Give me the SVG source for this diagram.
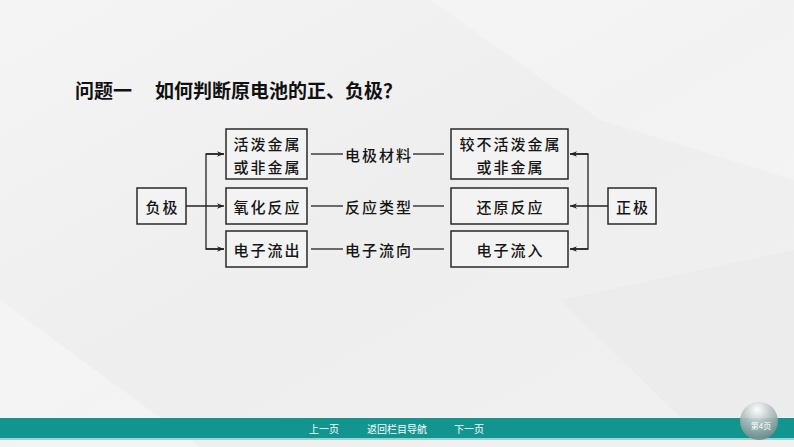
<svg xmlns="http://www.w3.org/2000/svg" width="794" height="447" viewBox="0 0 794 447">
<defs>
<linearGradient id="bg" x1="0" y1="0" x2="1" y2="1">
<stop offset="0" stop-color="#f4f4f4"/>
<stop offset="0.5" stop-color="#eeeeee"/>
<stop offset="1" stop-color="#f1f1f1"/>
</linearGradient>
<radialGradient id="bub" cx="0.45" cy="0.2" r="0.8">
<stop offset="0" stop-color="#ffffff" stop-opacity="0.95"/>
<stop offset="0.45" stop-color="#b9c4c4" stop-opacity="0.9"/>
<stop offset="1" stop-color="#6f8a89" stop-opacity="0.9"/>
</radialGradient>
<marker id="arr" viewBox="0 0 10 10" refX="10" refY="5" markerWidth="7" markerHeight="7" markerUnits="userSpaceOnUse" orient="auto">
<path d="M0,1 L10,5 L0,9 L3,5 Z" fill="#222"/>
</marker>
</defs>
<style>
.box{fill:#f3f3f3;stroke:#2a2a2a;stroke-width:1.5}
.t{font-family:"Noto Sans CJK SC","Noto Sans CJK JP",sans-serif;font-size:15px;font-weight:500;fill:#151515;letter-spacing:2px;text-anchor:middle;dominant-baseline:central}
.ln{stroke:#222;stroke-width:1.3;fill:none}
.title{font-family:"Noto Sans CJK SC",sans-serif;font-size:19px;font-weight:bold;fill:#111}
.ft{font-family:"Noto Sans CJK SC",sans-serif;font-size:10px;fill:#ffffff;text-anchor:middle;dominant-baseline:central}
</style>
<rect x="0" y="0" width="794" height="447" fill="url(#bg)"/>
<polygon points="430,0 794,0 794,180 600,120" fill="#ffffff" opacity="0.25"/>
<polygon points="0,300 200,447 0,447" fill="#ffffff" opacity="0.3"/>
<polygon points="560,300 794,250 794,417 680,417" fill="#e6e6e6" opacity="0.4"/>

<g id="title">
<text class="title" x="75" y="98">问题一</text>
<text class="title" x="155" y="98">如何判断原电池的正、负极？</text>
</g>

<g id="connectors">
<line class="ln" x1="186" y1="206" x2="224" y2="206" marker-end="url(#arr)"/>
<polyline class="ln" points="224,154 206,154 206,249 224,249"/>
<line class="ln" x1="206" y1="154" x2="224" y2="154" marker-end="url(#arr)"/>
<line class="ln" x1="206" y1="249" x2="224" y2="249" marker-end="url(#arr)"/>
<line class="ln" x1="608" y1="206" x2="570" y2="206" marker-end="url(#arr)"/>
<polyline class="ln" points="570,154 588,154 588,249 570,249"/>
<line class="ln" x1="588" y1="154" x2="570" y2="154" marker-end="url(#arr)"/>
<line class="ln" x1="588" y1="249" x2="570" y2="249" marker-end="url(#arr)"/>
<line class="ln" x1="311" y1="154" x2="343" y2="154"/>
<line class="ln" x1="413" y1="154" x2="444" y2="154"/>
<line class="ln" x1="311" y1="206" x2="343" y2="206"/>
<line class="ln" x1="413" y1="206" x2="444" y2="206"/>
<line class="ln" x1="311" y1="249" x2="343" y2="249"/>
<line class="ln" x1="413" y1="249" x2="444" y2="249"/>
<text class="t" x="379" y="154">电极材料</text>
<text class="t" x="379" y="206">反应类型</text>
<text class="t" x="379" y="249">电子流向</text>
</g>

<g id="node-fuji">
<rect class="box" x="137" y="188" width="49" height="36"/>
<text class="t" x="162.5" y="206">负极</text>
</g>
<g id="node-huopo">
<rect class="box" x="226" y="129" width="81" height="50"/>
<text class="t" x="267.5" y="143">活泼金属</text>
<text class="t" x="267.5" y="166">或非金属</text>
</g>
<g id="node-yanghua">
<rect class="box" x="226" y="188" width="81" height="36"/>
<text class="t" x="267.5" y="206">氧化反应</text>
</g>
<g id="node-liuchu">
<rect class="box" x="226" y="231" width="81" height="36"/>
<text class="t" x="267.5" y="249">电子流出</text>
</g>
<g id="node-buhuopo">
<rect class="box" x="451" y="129" width="117" height="50"/>
<text class="t" x="510.5" y="143">较不活泼金属</text>
<text class="t" x="510.5" y="166">或非金属</text>
</g>
<g id="node-huanyuan">
<rect class="box" x="451" y="188" width="117" height="36"/>
<text class="t" x="510.5" y="206">还原反应</text>
</g>
<g id="node-liuru">
<rect class="box" x="451" y="231" width="117" height="36"/>
<text class="t" x="510.5" y="249">电子流入</text>
</g>
<g id="node-zhengji">
<rect class="box" x="608" y="188" width="48" height="36"/>
<text class="t" x="633" y="206">正极</text>
</g>

<g id="footer">
<rect x="0" y="418" width="794" height="20" fill="#12958f"/>
<rect x="0" y="438" width="794" height="2" fill="#9fd3d0"/>
<text class="ft" x="324" y="428">上一页</text>
<text class="ft" x="397" y="428">返回栏目导航</text>
<text class="ft" x="469" y="428">下一页</text>
<circle cx="759" cy="421" r="19" fill="url(#bub)"/>
<text x="761" y="425" font-family="Noto Sans CJK SC,sans-serif" font-size="8" fill="#ffffff" text-anchor="middle" dominant-baseline="central">第4页</text>
</g>
</svg>
